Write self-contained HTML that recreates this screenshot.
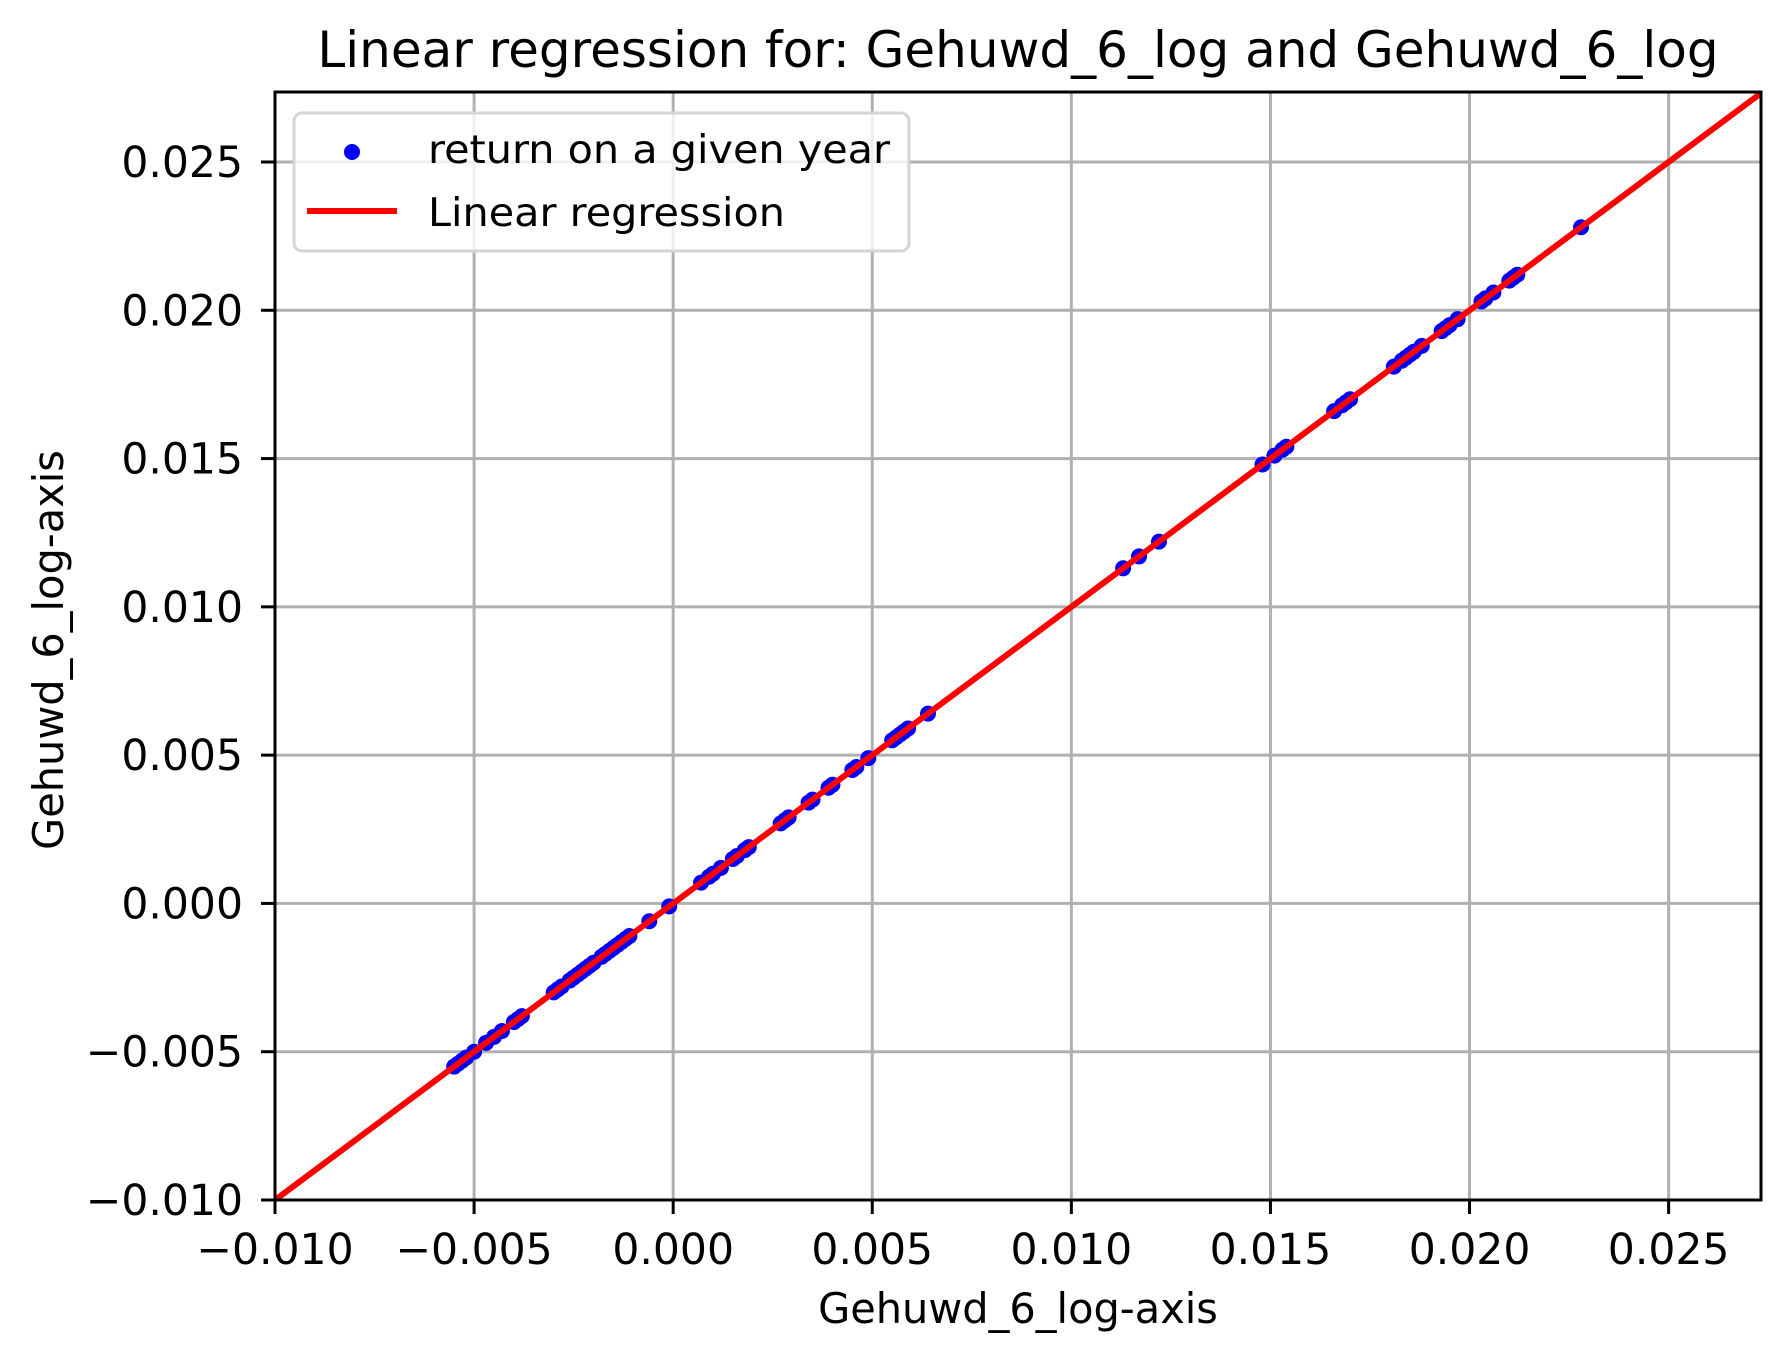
<!DOCTYPE html>
<html><head><meta charset="utf-8"><style>
html,body{margin:0;padding:0;background:#fff;}
svg{display:block;font-family:"DejaVu Sans","Liberation Sans",sans-serif;}
</style></head><body>
<svg id="chart" width="1790" height="1362" viewBox="0 0 1790 1362" xmlns="http://www.w3.org/2000/svg">
<rect x="0" y="0" width="1790" height="1362" fill="#fff"/>
<g id="grid"></g>
<g id="marks"></g>
<rect x="275" y="92" width="1486" height="1108" fill="none" stroke="#000" stroke-width="3"/>
<g id="ticks"></g>
<text x="1018" y="67" font-size="50" text-anchor="middle">Linear regression for: Gehuwd_6_log and Gehuwd_6_log</text>
<text x="1018" y="1323" font-size="41.5" text-anchor="middle">Gehuwd_6_log-axis</text>
<text x="0" y="0" font-size="41.5" text-anchor="middle" transform="translate(63,650) rotate(-90)">Gehuwd_6_log-axis</text>
<g>
<rect x="294" y="113" width="615" height="138" rx="8" fill="#fff" fill-opacity="0.8" stroke="#d5d5d5" stroke-width="3"/>
<circle cx="352" cy="152" r="8" fill="#0000ff"/>
<text x="428" y="163" font-size="39" textLength="462" lengthAdjust="spacingAndGlyphs">return on a given year</text>
<line x1="307" y1="211" x2="397" y2="211" stroke="#ff0000" stroke-width="6"/>
<text x="428" y="226" font-size="39" textLength="357" lengthAdjust="spacingAndGlyphs">Linear regression</text>
</g>
</svg>
<script>
const xTicks = [-0.010,-0.005,0.000,0.005,0.010,0.015,0.020,0.025];
const yTicks = [-0.010,-0.005,0.000,0.005,0.010,0.015,0.020,0.025];
const xTickLabels = ["\u22120.010","\u22120.005","0.000","0.005","0.010","0.015","0.020","0.025"];
const yTickLabels = ["\u22120.010","\u22120.005","0.000","0.005","0.010","0.015","0.020","0.025"];
const pointsX = [-0.0055,-0.0054,-0.0053,-0.0052,-0.0050,-0.0047,-0.0045,-0.0043,-0.0040,-0.0039,-0.0038,-0.0030,-0.0029,-0.0028,-0.0026,-0.0025,-0.0024,-0.0023,-0.0022,-0.0021,-0.0020,-0.0018,-0.0017,-0.0016,-0.0015,-0.0014,-0.0013,-0.0012,-0.0011,-0.0006,-0.0001,0.0007,0.0009,0.0010,0.0012,0.0015,0.0016,0.0018,0.0019,0.0027,0.0028,0.0029,0.0034,0.0035,0.0039,0.0040,0.0045,0.0046,0.0049,0.0055,0.0056,0.0057,0.0058,0.0059,0.0064,0.0113,0.0117,0.0122,0.0148,0.0151,0.0153,0.0154,0.0166,0.0168,0.0169,0.0170,0.0181,0.0183,0.0184,0.0185,0.0186,0.0188,0.0193,0.0194,0.0195,0.0197,0.0203,0.0204,0.0206,0.0210,0.0211,0.0212,0.0228];
const pointsY = [-0.0055,-0.0054,-0.0053,-0.0052,-0.0050,-0.0047,-0.0045,-0.0043,-0.0040,-0.0039,-0.0038,-0.0030,-0.0029,-0.0028,-0.0026,-0.0025,-0.0024,-0.0023,-0.0022,-0.0021,-0.0020,-0.0018,-0.0017,-0.0016,-0.0015,-0.0014,-0.0013,-0.0012,-0.0011,-0.0006,-0.0001,0.0007,0.0009,0.0010,0.0012,0.0015,0.0016,0.0018,0.0019,0.0027,0.0028,0.0029,0.0034,0.0035,0.0039,0.0040,0.0045,0.0046,0.0049,0.0055,0.0056,0.0057,0.0058,0.0059,0.0064,0.0113,0.0117,0.0122,0.0148,0.0151,0.0153,0.0154,0.0166,0.0168,0.0169,0.0170,0.0181,0.0183,0.0184,0.0185,0.0186,0.0188,0.0193,0.0194,0.0195,0.0197,0.0203,0.0204,0.0206,0.0210,0.0211,0.0212,0.0228];
const regressionSlope = 1.0;
const regressionIntercept = 0.0;
const xDomain = [-0.010, 0.02732];
const yDomain = [-0.010, 0.02736];

const NS = "http://www.w3.org/2000/svg";
const L = 275, R = 1761, T = 92, B = 1200;
function sx(v){ return L + (v - xDomain[0]) / (xDomain[1] - xDomain[0]) * (R - L); }
function sy(v){ return B - (v - yDomain[0]) / (yDomain[1] - yDomain[0]) * (B - T); }
function mk(tag, attrs, parent){ const e = document.createElementNS(NS, tag); for (const k in attrs) e.setAttribute(k, attrs[k]); parent.appendChild(e); return e; }

const grid = document.getElementById('grid');
const ticks = document.getElementById('ticks');
const marks = document.getElementById('marks');

xTicks.forEach((v, i) => {
  const x = sx(v);
  const g = mk('line', {x1:x, y1:T, x2:x, y2:B, stroke:'#b0b0b0', 'stroke-width':3}, grid);
  
  
  const t = mk('line', {x1:x, y1:B, x2:x, y2:B+14, stroke:'#000', 'stroke-width':3}, ticks);
  
  
  const lb = mk('text', {x:x, y:B+64, 'font-size':42.5, 'text-anchor':'middle'}, ticks);
  lb.textContent = xTickLabels[i];
  
  
});
yTicks.forEach((v, i) => {
  const y = sy(v);
  const g = mk('line', {x1:L, y1:y, x2:R, y2:y, stroke:'#b0b0b0', 'stroke-width':3}, grid);
  
  
  const t = mk('line', {x1:L-14, y1:y, x2:L, y2:y, stroke:'#000', 'stroke-width':3}, ticks);
  
  
  const lb = mk('text', {x:L-32, y:y+15, 'font-size':42.5, 'text-anchor':'end'}, ticks);
  lb.textContent = yTickLabels[i];
  
  
});

pointsX.forEach((v, i) => {
  const c = mk('circle', {cx:sx(v), cy:sy(pointsY[i]), r:8, fill:'#0000ff'}, marks);
  
  
});

const cp = mk('clipPath', {id:'axclip'}, document.getElementById('chart'));
mk('rect', {x:L, y:T, width:R-L, height:B-T}, cp);
const x0 = xDomain[0], x1 = xDomain[1];
const ln = mk('line', {x1:sx(x0), y1:sy(regressionSlope*x0+regressionIntercept), x2:sx(x1), y2:sy(regressionSlope*x1+regressionIntercept), stroke:'#ff0000', 'stroke-width':6, 'clip-path':'url(#axclip)'}, marks);


</script>
</body></html>
